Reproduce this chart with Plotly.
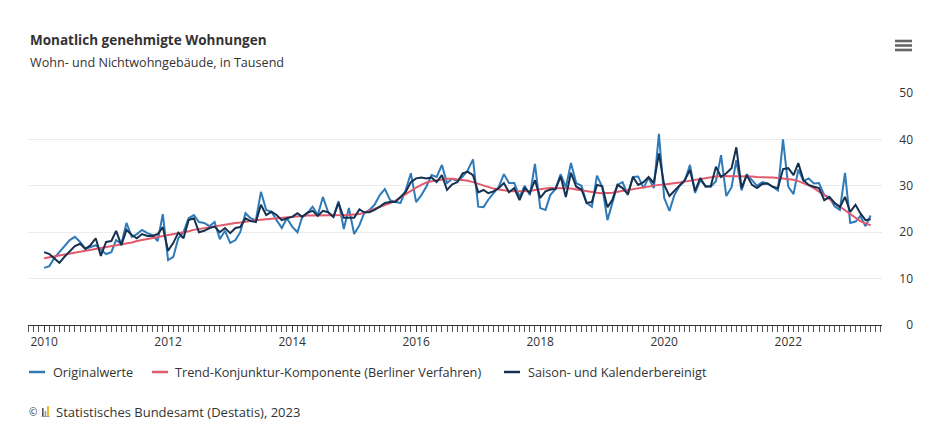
import pandas as pd
import plotly.graph_objects as go

months = pd.date_range("2010-01-01", "2023-05-01", freq="MS").strftime("%Y-%m-%d").tolist()

originalwerte = [
    12.3, 12.7, 14.4, 15.7, 16.8, 18.3, 19.0, 17.9, 16.4, 16.8, 17.2, 16.2,
    15.3, 15.7, 18.3, 17.5, 22.0, 19.0, 19.6, 20.5, 19.8, 19.4, 18.1, 23.9,
    14.0, 14.7, 18.7, 20.0, 23.0, 23.7, 22.2, 22.0, 21.3, 22.2, 18.5, 20.3,
    17.7, 18.3, 20.0, 24.1, 23.0, 22.6, 28.7, 24.8, 24.4, 22.6, 20.9, 23.0,
    21.2, 20.0, 23.3, 24.1, 25.5, 23.7, 27.6, 24.3, 23.3, 26.7, 20.7, 25.2,
    19.6, 21.5, 24.1, 24.8, 25.9, 28.0, 29.3, 26.9, 26.5, 26.3, 29.1, 32.7,
    26.5, 28.0, 29.8, 32.3, 31.9, 34.5, 30.6, 31.5, 31.0, 32.0, 33.4, 35.7,
    25.5, 25.4, 27.0, 28.4, 29.7, 32.5, 30.6, 30.6, 27.6, 30.0, 28.0, 34.7,
    25.2, 24.8, 28.0, 29.3, 32.5, 29.7, 34.9, 30.6, 30.0, 26.3, 25.5, 32.2,
    29.8, 22.6, 26.5, 30.2, 30.8, 28.0, 31.9, 32.0, 29.5, 31.7, 29.5, 41.2,
    27.4, 24.6, 28.0, 30.0, 31.0, 34.5, 28.5, 31.2, 30.0, 29.8, 31.0, 36.6,
    27.8, 29.7, 35.5, 29.0, 32.5, 31.3, 30.0, 30.8, 30.5, 29.8, 29.0, 40.0,
    29.8, 28.2, 33.5, 31.0, 31.6, 30.5, 30.6, 28.0, 27.5, 25.6, 24.8, 32.8,
    22.0, 22.3, 23.5, 21.3, 23.6,
]

trend = [
    14.4, 14.6, 14.8, 15.0, 15.2, 15.4, 15.6, 15.8, 16.0, 16.2, 16.4, 16.6,
    16.8, 17.0, 17.2, 17.4, 17.6, 17.8, 18.1, 18.3, 18.5, 18.7, 18.9, 19.1,
    19.3, 19.5, 19.8, 20.0, 20.2, 20.5, 20.7, 20.9, 21.1, 21.3, 21.5, 21.7,
    21.8, 22.0, 22.1, 22.3, 22.4, 22.6, 22.7, 22.8, 23.0, 23.1, 23.2, 23.3,
    23.4, 23.5, 23.5, 23.6, 23.6, 23.6, 23.6, 23.6, 23.6, 23.6, 23.6, 23.7,
    23.8, 23.9, 24.2, 24.6, 25.1, 25.5, 25.9, 26.3, 26.8, 27.5, 28.3, 29.0,
    29.6, 30.2, 30.7, 31.0, 31.2, 31.4, 31.5, 31.5, 31.4, 31.3, 31.1, 30.8,
    30.4, 30.0, 29.7, 29.4, 29.2, 29.0, 28.9, 28.8, 28.8, 28.8, 28.9, 29.1,
    29.3, 29.4, 29.5, 29.5, 29.5, 29.5, 29.4, 29.2, 29.0, 28.8, 28.6, 28.5,
    28.4, 28.4, 28.5, 28.7, 28.9, 29.1, 29.3, 29.5, 29.7, 29.9, 30.0, 30.2,
    30.3, 30.4, 30.5, 30.7, 30.9, 31.1, 31.3, 31.5, 31.7, 31.9, 32.0, 32.1,
    32.1, 32.1, 32.1, 32.1, 32.0, 32.0, 31.9, 31.9, 31.8, 31.8, 31.7, 31.6,
    31.5, 31.3, 31.0, 30.6, 30.1, 29.5, 28.8, 28.0, 27.1, 26.3, 25.5, 24.7,
    23.9, 23.1, 22.4, 21.9, 21.5,
]

saisonbereinigt = [
    15.7, 15.3, 14.4, 13.4, 14.7, 15.9, 17.0, 17.5, 16.4, 17.2, 18.7, 14.9,
    17.9, 18.1, 20.3, 17.2, 20.5, 19.4, 18.7, 19.6, 19.2, 19.2, 19.6, 21.1,
    16.0, 17.7, 19.9, 18.7, 22.6, 23.0, 20.0, 20.3, 20.9, 21.2, 20.0, 20.9,
    19.8, 20.9, 21.1, 23.0, 22.4, 22.2, 25.9, 23.7, 24.4, 23.7, 22.6, 23.0,
    23.3, 24.1, 23.3, 24.2, 24.6, 23.5, 24.6, 24.3, 23.3, 26.3, 23.1, 23.1,
    23.1, 24.9, 24.3, 24.3, 24.8, 25.5, 26.3, 26.5, 26.5, 27.6, 28.7, 30.8,
    31.6, 31.8, 31.6, 31.8, 30.8, 32.3, 29.1, 30.3, 30.8, 32.7, 33.0, 32.3,
    28.6, 29.1, 28.4, 28.8, 29.5, 30.6, 28.6, 29.5, 26.9, 29.5, 28.5, 31.2,
    27.4, 28.8, 29.2, 29.3, 32.0, 27.6, 32.8, 29.8, 29.2, 26.3, 26.5, 30.2,
    29.9, 25.4, 26.9, 30.2, 29.5, 28.2, 31.9, 30.2, 30.8, 31.9, 30.6, 37.0,
    30.2, 27.8, 28.9, 30.2, 31.2, 33.4, 28.9, 31.7, 29.8, 29.9, 34.1, 31.9,
    32.7, 33.8, 38.3, 29.5, 32.3, 30.2, 29.5, 30.4, 30.5, 29.8, 29.5, 33.6,
    33.8, 32.3, 34.9, 31.2, 30.2, 29.8, 29.5, 26.9, 27.6, 26.3, 25.4, 27.6,
    24.4, 25.9, 24.1, 22.6, 22.8,
]

series_names = [
    "Originalwerte",
    "Trend-Konjunktur-Komponente (Berliner Verfahren)",
    "Saison- und Kalenderbereinigt",
]
series_colors = ["#2f7ab8", "#e3596c", "#15314f"]

title_text = "Monatlich genehmigte Wohnungen"
subtitle_text = "Wohn- und Nichtwohngebäude, in Tausend"
source_text = "Statistisches Bundesamt (Destatis), 2023"

W, H = 944, 438
ML, MR, MT, MB = 28, 31, 93, 113
PW = W - ML - MR
PH = H - MT - MB


def px(x):
    return (x - ML) / PW


def py(y):
    return (H - MB - y) / PH


FONT = "Open Sans"
TXT = "#333333"

fig = go.Figure()
for name, vals, col in zip(series_names, [originalwerte, trend, saisonbereinigt], series_colors):
    fig.add_trace(go.Scatter(
        x=months, y=vals, mode="lines", name=name,
        line=dict(color=col, width=2), showlegend=False,
    ))

shapes = []
annotations = []

# custom legend
leg_y = 372
leg_items = [(29, 51), (152, 173), (504, 526)]
for (lx, tx), name, col in zip(leg_items, series_names, series_colors):
    shapes.append(dict(type="line", xref="paper", yref="paper",
                       x0=px(lx), x1=px(lx + 16), y0=py(leg_y), y1=py(leg_y),
                       line=dict(color=col, width=2.5)))
    annotations.append(dict(text=name, xref="paper", yref="paper", x=px(tx), y=py(leg_y),
                            xanchor="left", yanchor="middle", showarrow=False,
                            font=dict(family=FONT, size=12.7, color=TXT)))

# title / subtitle
annotations.append(dict(text="<b>" + title_text + "</b>", xref="paper", yref="paper",
                        x=px(28), y=py(40), xanchor="left", yanchor="middle", showarrow=False,
                        font=dict(family=FONT, size=13.5, color=TXT)))
annotations.append(dict(text=subtitle_text, xref="paper", yref="paper",
                        x=px(28), y=py(62), xanchor="left", yanchor="middle", showarrow=False,
                        font=dict(family=FONT, size=12.6, color=TXT)))

# source line
annotations.append(dict(text="©", xref="paper", yref="paper",
                        x=px(27), y=py(412), xanchor="left", yanchor="middle", showarrow=False,
                        font=dict(family=FONT, size=10, color=TXT)))
for x0, x1, y0, col in [(42, 43.6, 408, "#555555"), (44.6, 46.2, 411, "#999999"), (47.2, 48.8, 406, "#f0a400")]:
    shapes.append(dict(type="rect", xref="paper", yref="paper",
                       x0=px(x0), x1=px(x1), y0=py(416), y1=py(y0),
                       line=dict(width=0), fillcolor=col))
shapes.append(dict(type="rect", xref="paper", yref="paper",
                   x0=px(41.5), x1=px(49.5), y0=py(417), y1=py(416),
                   line=dict(width=0), fillcolor="#999999"))
annotations.append(dict(text=source_text, xref="paper", yref="paper",
                        x=px(54), y=py(412), xanchor="left", yanchor="middle", showarrow=False,
                        font=dict(family=FONT, size=13, color=TXT)))

# menu icon
for yy in [41, 45.5, 50]:
    shapes.append(dict(type="rect", xref="paper", yref="paper",
                       x0=px(895), x1=px(912), y0=py(yy + 1.3), y1=py(yy - 1.3),
                       line=dict(width=0), fillcolor="#666666"))

fig.update_layout(
    width=W, height=H,
    margin=dict(l=ML, r=MR, t=MT, b=MB),
    paper_bgcolor="white", plot_bgcolor="white",
    font=dict(family=FONT, size=12, color=TXT),
    shapes=shapes, annotations=annotations,
    showlegend=False,
    xaxis=dict(
        type="date",
        domain=[0, (882 - ML) / PW],
        range=["2009-09-28", "2023-07-07"],
        dtick="M24", tick0="2010-01-01", tickformat="%Y",
        ticks="outside", ticklen=6, tickcolor="#333333", tickwidth=1,
        showline=True, linecolor="#333333", linewidth=1,
        showgrid=False, zeroline=False,
        tickfont=dict(family=FONT, size=12, color=TXT),
        minor=dict(dtick="M1", tick0="2010-01-01", ticks="outside", ticklen=6,
                   tickcolor="#555555", tickwidth=1, showgrid=False),
    ),
    yaxis=dict(
        range=[0, 50], dtick=10,
        anchor="free", position=1.0, side="left",
        showgrid=True, gridcolor="#ebebeb", gridwidth=1,
        zeroline=False, showline=False, ticks="",
        tickfont=dict(family=FONT, size=12, color=TXT),
    ),
)

fig.write_html("out.html")
